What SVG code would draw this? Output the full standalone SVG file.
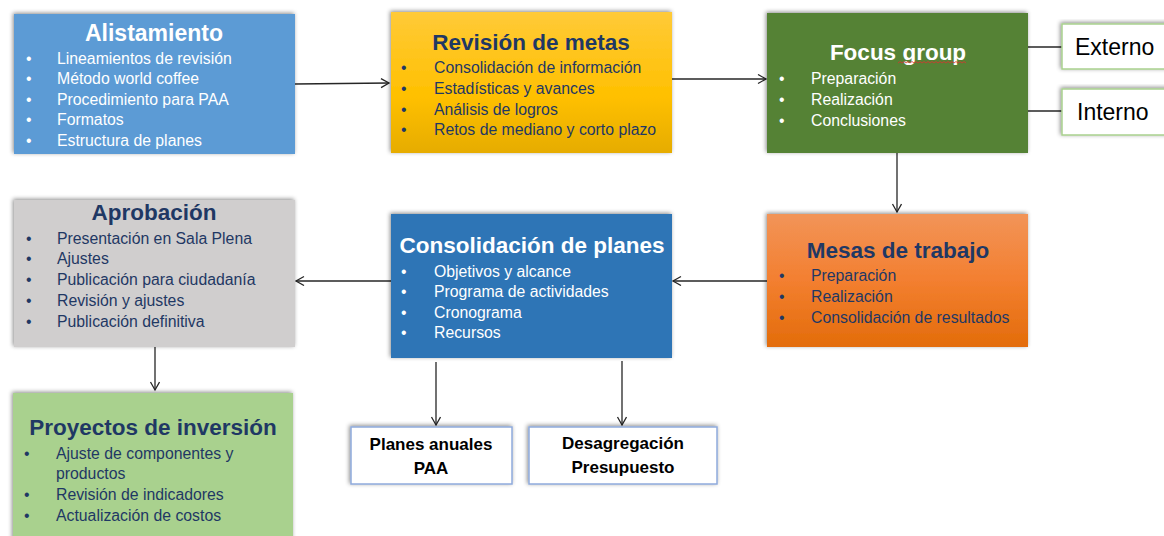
<svg xmlns="http://www.w3.org/2000/svg" width="1164" height="536" viewBox="0 0 1164 536">
<style>
.t{font-family:"Liberation Sans",Arial,sans-serif;font-weight:bold;text-anchor:middle}
.i{font-family:"Liberation Sans",Arial,sans-serif;font-size:15.8px}
.w{fill:#ffffff}
.n{fill:#1f3864}
.c{stroke:#262626;stroke-width:1.3;fill:none}
</style>
<defs>
<filter id="sh" x="-10%" y="-10%" width="120%" height="130%">
<feDropShadow dx="-1" dy="-1" stdDeviation="2" flood-color="#000" flood-opacity="0.45"/>
</filter>
<linearGradient id="gy" x1="0" y1="0" x2="0" y2="1">
<stop offset="0" stop-color="#ffca38"/><stop offset="0.6" stop-color="#ffc000"/><stop offset="1" stop-color="#e6ac00"/>
</linearGradient>
<linearGradient id="go" x1="0" y1="0" x2="0" y2="1">
<stop offset="0" stop-color="#f29458"/><stop offset="0.5" stop-color="#f37f30"/><stop offset="1" stop-color="#e36c0a"/>
</linearGradient>
<marker id="ah" markerWidth="12" markerHeight="12" refX="9" refY="5" orient="auto" markerUnits="userSpaceOnUse">
<path d="M1,0.5 L9,5 L1,9.5" fill="none" stroke="#262626" stroke-width="1.3"/>
</marker>
</defs>

<g id="connectors">
<line class="c" x1="295" y1="84" x2="389" y2="83" marker-end="url(#ah)"/>
<line class="c" x1="672" y1="79" x2="766" y2="79" marker-end="url(#ah)"/>
<line class="c" x1="897" y1="153" x2="897" y2="212" marker-end="url(#ah)"/>
<line class="c" x1="767" y1="281" x2="673" y2="281" marker-end="url(#ah)"/>
<line class="c" x1="391" y1="281" x2="296" y2="281" marker-end="url(#ah)"/>
<line class="c" x1="155" y1="347" x2="155" y2="390" marker-end="url(#ah)"/>
<line class="c" x1="436" y1="362" x2="436" y2="425" marker-end="url(#ah)"/>
<line class="c" x1="622" y1="361" x2="622" y2="425" marker-end="url(#ah)"/>
<line class="c" x1="1028" y1="47" x2="1062" y2="47"/>
<line class="c" x1="1028" y1="111" x2="1062" y2="111"/>
</g>

<g id="alistamiento">
<rect x="14" y="14" width="281" height="140" fill="#5b9bd5" filter="url(#sh)"/>
<text class="t w" x="154" y="41" font-size="23">Alistamiento</text>
<g class="i w">
<text x="26" y="64">•</text><text x="57" y="64">Lineamientos de revisión</text>
<text x="26" y="84">•</text><text x="57" y="84">Método world coffee</text>
<text x="26" y="105">•</text><text x="57" y="105">Procedimiento para PAA</text>
<text x="26" y="125">•</text><text x="57" y="125">Formatos</text>
<text x="26" y="146">•</text><text x="57" y="146">Estructura de planes</text>
</g>
</g>

<g id="revision">
<rect x="391" y="12" width="281" height="141" fill="url(#gy)" filter="url(#sh)"/>
<text class="t n" x="531" y="50" font-size="22.5">Revisión de metas</text>
<g class="i n">
<text x="401" y="73">•</text><text x="434" y="73">Consolidación de información</text>
<text x="401" y="94">•</text><text x="434" y="94">Estadísticas y avances</text>
<text x="401" y="115">•</text><text x="434" y="115">Análisis de logros</text>
<text x="401" y="135">•</text><text x="434" y="135">Retos de mediano y corto plazo</text>
</g>
</g>

<g id="focus">
<rect x="767" y="13" width="261" height="140" fill="#548235" filter="url(#sh)"/>
<text class="t w" x="898" y="60" font-size="22.5">Focus group</text>
<path d="M898,63 l2,-1.5 l2,1.5 l2,-1.5 l2,1.5 l2,-1.5 l2,1.5 l2,-1.5 l2,1.5 l2,-1.5 l2,1.5 l2,-1.5 l2,1.5 l2,-1.5 l2,1.5 l2,-1.5 l2,1.5 l2,-1.5 l2,1.5 l2,-1.5 l2,1.5 l2,-1.5 l2,1.5 l2,-1.5 l2,1.5 l2,-1.5 l2,1.5 l2,-1.5 l2,1.5 l2,-1.5 l2,1.5 l2,-1.5 l2,1.5 l2,-1.5 l2,1.5" fill="none" stroke="#e03030" stroke-width="0.8"/>
<g class="i w">
<text x="779" y="84">•</text><text x="811" y="84">Preparación</text>
<text x="779" y="105">•</text><text x="811" y="105">Realización</text>
<text x="779" y="126">•</text><text x="811" y="126">Conclusiones</text>
</g>
</g>

<g id="externo">
<rect x="1062" y="24" width="110" height="45" fill="#ffffff" stroke="#a9d18e" stroke-width="1.5" filter="url(#sh)"/>
<text x="1075" y="55" font-family="'Liberation Sans',Arial,sans-serif" font-size="23" fill="#000">Externo</text>
</g>

<g id="interno">
<rect x="1062" y="89" width="110" height="46" fill="#ffffff" stroke="#a9d18e" stroke-width="1.5" filter="url(#sh)"/>
<text x="1077" y="120" font-family="'Liberation Sans',Arial,sans-serif" font-size="23" fill="#000">Interno</text>
</g>

<g id="mesas">
<rect x="767" y="214" width="261" height="133" fill="url(#go)" filter="url(#sh)"/>
<text class="t n" x="898" y="258" font-size="22.5">Mesas de trabajo</text>
<g class="i n">
<text x="779" y="281">•</text><text x="811" y="281">Preparación</text>
<text x="779" y="302">•</text><text x="811" y="302">Realización</text>
<text x="779" y="323">•</text><text x="811" y="323">Consolidación de resultados</text>
</g>
</g>

<g id="consolidacion">
<rect x="391" y="214" width="281" height="144" fill="#2e75b6" filter="url(#sh)"/>
<text class="t w" x="532" y="253" font-size="22.5">Consolidación de planes</text>
<g class="i w">
<text x="401" y="277">•</text><text x="434" y="277">Objetivos y alcance</text>
<text x="401" y="297">•</text><text x="434" y="297">Programa de actividades</text>
<text x="401" y="318">•</text><text x="434" y="318">Cronograma</text>
<text x="401" y="338">•</text><text x="434" y="338">Recursos</text>
</g>
</g>

<g id="aprobacion">
<rect x="14" y="200" width="281" height="147" fill="#d0cece" filter="url(#sh)"/>
<text class="t n" x="154" y="220" font-size="22.5">Aprobación</text>
<g class="i n">
<text x="26" y="244">•</text><text x="57" y="244">Presentación en Sala Plena</text>
<text x="26" y="264">•</text><text x="57" y="264">Ajustes</text>
<text x="26" y="285">•</text><text x="57" y="285">Publicación para ciudadanía</text>
<text x="26" y="306">•</text><text x="57" y="306">Revisión y ajustes</text>
<text x="26" y="327">•</text><text x="57" y="327">Publicación definitiva</text>
</g>
</g>

<g id="proyectos">
<rect x="13" y="393" width="280" height="150" fill="#a9d18e" filter="url(#sh)"/>
<text class="t n" x="153" y="435" font-size="22.5">Proyectos de inversión</text>
<g class="i n">
<text x="24" y="459">•</text><text x="56" y="459">Ajuste de componentes y</text>
<text x="56" y="479">productos</text>
<text x="24" y="500">•</text><text x="56" y="500">Revisión de indicadores</text>
<text x="24" y="521">•</text><text x="56" y="521">Actualización de costos</text>
</g>
</g>

<g id="planes-anuales">
<rect x="351" y="427" width="161" height="57" fill="#ffffff" stroke="#8faadc" stroke-width="1.5" filter="url(#sh)"/>
<text class="t" x="431" y="450" font-size="17" fill="#000">Planes anuales</text>
<text class="t" x="431" y="474" font-size="17" fill="#000">PAA</text>
</g>

<g id="desagregacion">
<rect x="529" y="427" width="188" height="57" fill="#ffffff" stroke="#8faadc" stroke-width="1.5" filter="url(#sh)"/>
<text class="t" x="623" y="449" font-size="17" fill="#000">Desagregación</text>
<text class="t" x="623" y="473" font-size="17" fill="#000">Presupuesto</text>
</g>
</svg>
